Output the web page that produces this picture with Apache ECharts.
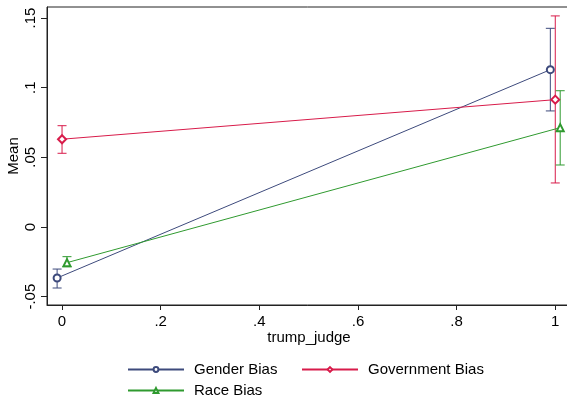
<!DOCTYPE html>
<html><head><meta charset="utf-8">
<script src="https://cdn.jsdelivr.net/npm/echarts@6/dist/echarts.min.js"></script>
<style>html,body{margin:0;padding:0;background:#fff}#c{width:567px;height:398px}</style>
</head><body><div id="c"></div>
<script>
const seriesNames = ['Gender Bias', 'Government Bias', 'Race Bias'];
const xGender = [-0.01, 0.99];
const xGov = [0, 1];
const xRace = [0.01, 1.01];
const meanGender = [-0.0366, 0.1129];
const loGender = [-0.0438, 0.0833];
const hiGender = [-0.0302, 0.1426];
const meanGov = [0.0630, 0.0914];
const loGov = [0.0529, 0.0316];
const hiGov = [0.0727, 0.1515];
const meanRace = [-0.0256, 0.0713];
const loRace = [-0.0285, 0.0445];
const hiRace = [-0.0213, 0.0978];
const xTicks = [0, 0.2, 0.4, 0.6, 0.8, 1];
const xTickLabels = ['0', '.2', '.4', '.6', '.8', '1'];
const yTicks = [-0.05, 0, 0.05, 0.1, 0.15];
const yTickLabels = ['-.05', '0', '.05', '.1', '.15'];

const colors = ['#3d4a7c', '#d81b4a', '#2f9a2f'];
const symbols = ['emptyCircle', 'emptyDiamond', 'emptyTriangle'];
const font = "'Liberation Sans', Arial, Helvetica, sans-serif";

const groups = [
  {x: xGender, m: meanGender, lo: loGender, hi: hiGender},
  {x: xGov, m: meanGov, lo: loGov, hi: hiGov},
  {x: xRace, m: meanRace, lo: loRace, hi: hiRace}
];

const series = [];
groups.forEach((g, i) => {
  series.push({
    name: seriesNames[i], type: 'line',
    data: g.x.map((x, k) => [x, g.m[k]]),
    symbol: symbols[i], symbolSize: i === 1 ? 8 : 7,
    lineStyle: {color: colors[i], width: 1},
    itemStyle: {color: colors[i], borderWidth: 1},
    z: 3, animation: false
  });
  series.push({
    type: 'custom', name: seriesNames[i] + ' CI',
    data: g.x.map((x, k) => [x, g.lo[k], g.hi[k]]),
    renderItem: function (params, api) {
      const lo = api.coord([api.value(0), api.value(1)]);
      const hi = api.coord([api.value(0), api.value(2)]);
      const w = 4.5;
      const st = {stroke: colors[i], lineWidth: 1, fill: null};
      return {type: 'group', children: [
        {type: 'line', shape: {x1: lo[0], y1: lo[1], x2: hi[0], y2: hi[1]}, style: st},
        {type: 'line', shape: {x1: lo[0]-w, y1: lo[1], x2: lo[0]+w, y2: lo[1]}, style: st},
        {type: 'line', shape: {x1: hi[0]-w, y1: hi[1], x2: hi[0]+w, y2: hi[1]}, style: st}
      ]};
    },
    z: 2, animation: false, silent: true
  });
});

const legendPos = [{left: 127, top: 362}, {left: 301, top: 362}, {left: 127, top: 383}];
const legends = seriesNames.map((n, i) => ({
  data: [n], left: legendPos[i].left, top: legendPos[i].top, padding: 0,
  itemWidth: 56, itemHeight: 6, itemGap: 0,
  textStyle: {fontFamily: font, fontSize: 15, color: '#000', padding: [0, 0, 0, 5]},
  selectedMode: false
}));

const chart = echarts.init(document.getElementById('c'), null, {renderer: 'canvas'});
chart.setOption({
  animation: false,
  color: colors,
  grid: {left: 47, top: 7, right: -4, bottom: 93, show: true, borderColor: '#222', borderWidth: 1,
    containLabel: false, outerBoundsMode: 'none'},
  legend: legends,
  xAxis: {
    type: 'value', min: -0.0305, max: 1.0319,
    name: 'trump_judge', nameLocation: 'middle', nameGap: 25, nameMoveOverlap: false,
    nameTextStyle: {fontFamily: font, fontSize: 15, color: '#000'},
    axisLine: {show: true, onZero: false, lineStyle: {color: '#222', width: 1}},
    axisTick: {show: true, length: 5, lineStyle: {color: '#222'}, customValues: xTicks},
    axisLabel: {fontFamily: font, fontSize: 15, color: '#000', margin: 9, customValues: xTicks,
      formatter: v => { const k = xTicks.findIndex(t => Math.abs(t - v) < 1e-9); return k >= 0 ? xTickLabels[k] : ''; }},
    splitLine: {show: false}
  },
  yAxis: {
    type: 'value', min: -0.056, max: 0.1579,
    name: 'Mean', nameLocation: 'middle', nameGap: 26, nameMoveOverlap: false,
    nameTextStyle: {fontFamily: font, fontSize: 15, color: '#000'},
    axisLine: {show: true, onZero: false, lineStyle: {color: '#222', width: 1}},
    axisTick: {show: true, length: 6, lineStyle: {color: '#222'}, customValues: yTicks},
    axisLabel: {fontFamily: font, fontSize: 15, color: '#000', margin: 9, rotate: 90, customValues: yTicks,
      formatter: v => { const k = yTicks.findIndex(t => Math.abs(t - v) < 1e-9); return k >= 0 ? yTickLabels[k] : ''; }},
    splitLine: {show: false}
  },
  series: series
});
</script></body></html>
